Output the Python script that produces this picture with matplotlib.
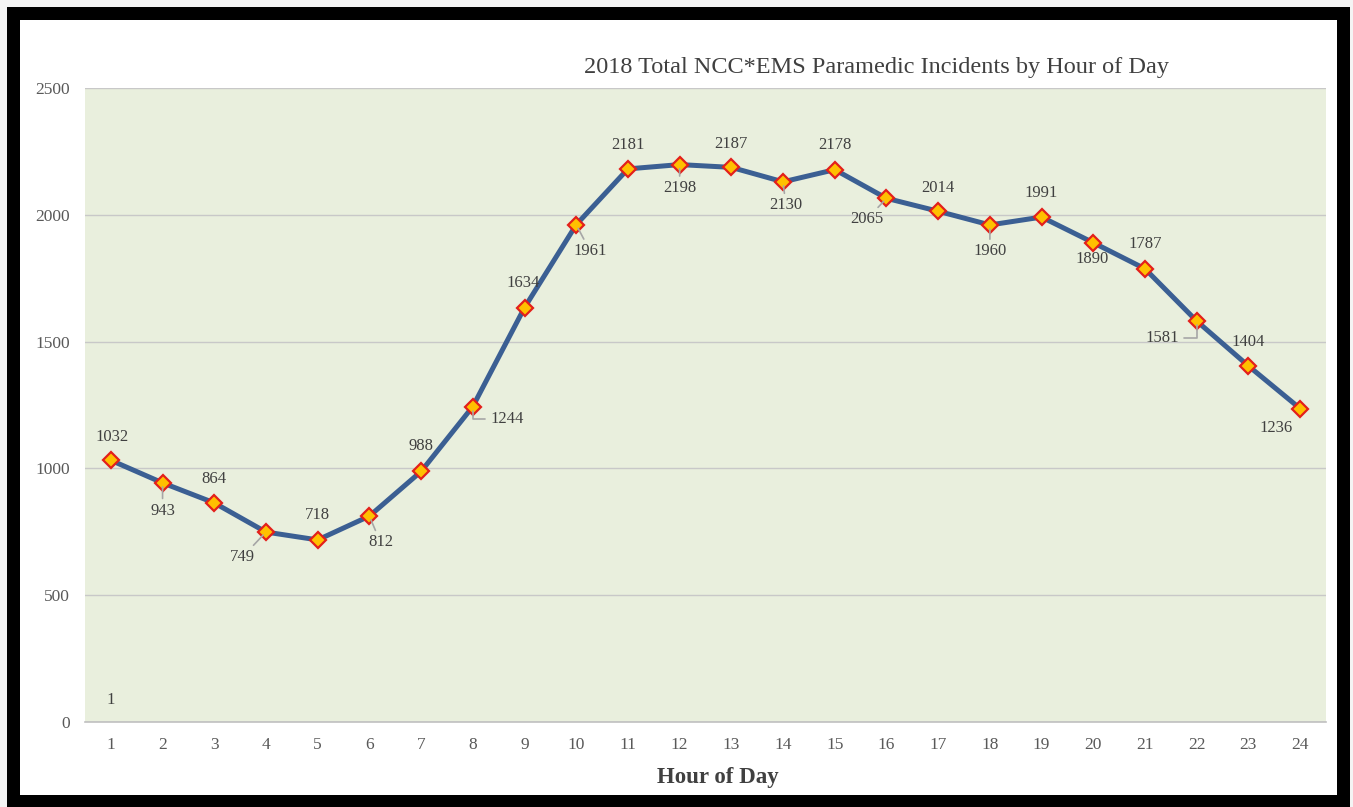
import matplotlib
matplotlib.use("Agg")
import matplotlib.pyplot as plt
from matplotlib.patches import Rectangle

plt.rcParams['font.family'] = ['Liberation Serif', 'DejaVu Serif']

# data
hours = list(range(1, 25))
incidents = [1032, 943, 864, 749, 718, 812, 988, 1244, 1634, 1961, 2181, 2198,
             2187, 2130, 2178, 2065, 2014, 1960, 1991, 1890, 1787, 1581, 1404, 1236]
# second (hidden) series, only its label shows
other_hours = [1]
other_vals = [1]

yticks = [0, 500, 1000, 1500, 2000, 2500]
title = '2018 Total NCC*EMS Paramedic Incidents by Hour of Day'
xlabel = 'Hour of Day'

# label offsets (points) and whether a leader line is drawn
label_off = [(1, 17), (0, -20), (0, 17), (-17, -18), (0, 18), (8, -19), (0, 18), (25, -9),
             (-1, 18), (10, -19), (0, 17), (0, -17), (0, 17), (2, -17), (0, 18), (-14, -15),
             (0, 17), (0, -19), (0, 17), (-1, -12), (0, 18), (-25, -12), (0, 17), (-17, -14)]
leader = [False, True, False, True, False, True, False, 'elbow', False, True, False, True,
          False, True, False, True, False, True, False, False, False, 'elbow2', False, False]

W, H = 1353, 807
fig = plt.figure(figsize=(W / 100, H / 100), dpi=100)
fig.patch.set_facecolor('#f4f4f4')
fig.add_artist(Rectangle((7 / W, 0), 1343 / W, 800 / H, transform=fig.transFigure,
                         facecolor='black', edgecolor='none', zorder=0))
fig.add_artist(Rectangle((20 / W, 12 / H), 1317 / W, 775 / H, transform=fig.transFigure,
                         facecolor='white', edgecolor='none', zorder=0))

ax = fig.add_axes([85 / W, 85 / H, 1241 / W, 634 / H])
ax.set_facecolor('#e9efdd')

ax.plot(hours, incidents, color='#3b5f93', lw=3.6, marker='D', ms=8,
        mfc='#ffc000', mec='#e3201b', mew=1.6, zorder=3, solid_capstyle='round')

for x, v, (dx, dy), ld in zip(hours, incidents, label_off, leader):
    arrow = None
    if ld is True:
        arrow = dict(arrowstyle='-', color='#a6a6a6', lw=1.2, shrinkA=1, shrinkB=3)
    elif ld == 'elbow':
        arrow = dict(arrowstyle='-', color='#a6a6a6', lw=1.2, shrinkA=2, shrinkB=3,
                     connectionstyle='angle,angleA=0,angleB=90,rad=0', relpos=(0, 0.5))
    elif ld == 'elbow2':
        arrow = dict(arrowstyle='-', color='#a6a6a6', lw=1.2, shrinkA=2, shrinkB=3,
                     connectionstyle='angle,angleA=0,angleB=90,rad=0', relpos=(1, 0.5))
    ax.annotate(str(v), (x, v), xytext=(dx, dy), textcoords='offset points',
                ha='center', va='center', fontsize=12, color='#404040',
                arrowprops=arrow, zorder=4)

for x, v in zip(other_hours, other_vals):
    ax.annotate(str(v), (x, v), xytext=(0, 16), textcoords='offset points',
                ha='center', va='center', fontsize=12, color='#404040')

ax.set_xlim(0.5, 24.5)
ax.set_ylim(0, 2500)
ax.set_xticks(hours)
ax.set_yticks(yticks)
ax.yaxis.grid(True, color='#c8c8c8', lw=1)
ax.set_axisbelow(True)
for s in ['left', 'right', 'top']:
    ax.spines[s].set_visible(False)
ax.spines['bottom'].set_color('#c0c0c0')
ax.spines['bottom'].set_linewidth(1.2)
ax.tick_params(axis='both', length=0, labelsize=12.5, labelcolor='#595959')
ax.tick_params(axis='x', pad=11)
ax.tick_params(axis='y', pad=11)

ax.set_xlabel(xlabel, fontsize=16.5, fontweight='bold', color='#404040')
ax.xaxis.set_label_coords((718 - 85) / 1241, -(777 - 722) / 634)
ax.xaxis.label.set_va('center')
fig.text(877 / W, 1 - 67 / H, title, ha='center', va='center', fontsize=17.5, color='#404040')

fig.savefig('out.png', dpi=100, facecolor=fig.get_facecolor())
